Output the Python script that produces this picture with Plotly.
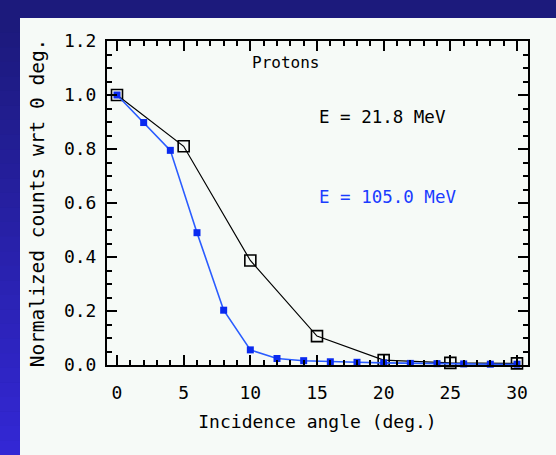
import plotly.graph_objects as go

# ---- data ----
angle_21 = [0, 5, 10, 15, 20, 25, 30]
counts_21 = [1.0, 0.81, 0.387, 0.107, 0.018, 0.008, 0.006]

angle_105 = [0, 2, 4, 6, 8, 10, 12, 14, 16, 18, 20, 22, 24, 26, 28, 30]
counts_105 = [1.0, 0.898, 0.795, 0.49, 0.203, 0.056, 0.024, 0.016, 0.012, 0.01,
              0.008, 0.006, 0.005, 0.004, 0.003, 0.003]

x_ticks = [0, 5, 10, 15, 20, 25, 30]
y_ticks = [0.0, 0.2, 0.4, 0.6, 0.8, 1.0, 1.2]

W, H = 556, 455
L, R, T, B = 107, 528, 41, 365  # plot area in pixels


def px(x):
    return (x - L) / (R - L)


def py(y):
    return (B - y) / (B - T)


FONT = "DejaVu Sans Mono"
BLACK = "#000000"
BLUE_LINE = "#2a5cff"
BLUE_MARK = "#0a2af0"
PANEL = "#f6faf7"

fig = go.Figure()

fig.add_trace(go.Scatter(
    x=angle_21, y=counts_21, mode="lines+markers",
    line=dict(color=BLACK, width=1.2),
    marker=dict(symbol="square-open", size=11, color=BLACK, line=dict(width=1.6)),
    showlegend=False, cliponaxis=False,
))
fig.add_trace(go.Scatter(
    x=angle_105, y=counts_105, mode="lines+markers",
    line=dict(color=BLUE_LINE, width=1.6),
    marker=dict(symbol="square", size=7, color=BLUE_MARK),
    showlegend=False, cliponaxis=False,
))

shapes = []
shapes.append(dict(type="rect", xref="paper", yref="paper",
                   x0=px(0), x1=px(W), y0=py(H), y1=py(0),
                   fillcolor="#1c1a7c", line=dict(width=0), layer="below"))
# left gradient strip
n = 30
c0 = (0x1c, 0x1a, 0x7c)
c1 = (0x33, 0x27, 0xd4)
for i in range(n):
    t = i / (n - 1)
    col = "rgb(%d,%d,%d)" % tuple(round(a + (b - a) * t) for a, b in zip(c0, c1))
    y0 = 18 + (H - 18) * i / n
    y1 = 18 + (H - 18) * (i + 1) / n + 0.5
    shapes.append(dict(type="rect", xref="paper", yref="paper",
                       x0=px(0), x1=px(20), y0=py(y1), y1=py(y0),
                       fillcolor=col, line=dict(width=0), layer="below"))
# white panel
shapes.append(dict(type="rect", xref="paper", yref="paper",
                   x0=px(20), x1=px(W), y0=py(H), y1=py(18),
                   fillcolor=PANEL, line=dict(width=0), layer="below"))

annotations = [
    dict(x=12.6, y=1.12, xref="x", yref="y", text="Protons", showarrow=False,
         font=dict(family=FONT, size=16, color=BLACK), xanchor="center", yanchor="middle"),
    dict(x=15.0, y=0.92, xref="x", yref="y", text="E = 21.8 MeV", showarrow=False,
         font=dict(family=FONT, size=17.5, color=BLACK), xanchor="left", yanchor="middle"),
    dict(x=15.0, y=0.623, xref="x", yref="y", text="E = 105.0 MeV", showarrow=False,
         font=dict(family=FONT, size=17.5, color="#1a3cff"), xanchor="left", yanchor="middle"),
]

axis_common = dict(
    showgrid=False, zeroline=False, showline=True, linecolor=BLACK, linewidth=2,
    mirror="allticks", ticks="inside", ticklen=10, tickwidth=2, tickcolor=BLACK,
    tickfont=dict(family=FONT, size=18, color=BLACK),
)

fig.update_layout(
    width=W, height=H, autosize=False,
    margin=dict(l=L, r=W - R, t=T, b=H - B, pad=0),
    paper_bgcolor=PANEL, plot_bgcolor=PANEL,
    shapes=shapes, annotations=annotations,
    xaxis=dict(
        range=[-0.75, 30.825], tickvals=x_ticks, ticktext=[str(v) for v in x_ticks],
        minor=dict(dtick=1, tick0=0, ticks="inside", ticklen=5, tickwidth=2, tickcolor=BLACK),
        ticklabelstandoff=10,
        title=dict(text="Incidence angle (deg.)", font=dict(family=FONT, size=18, color=BLACK),
                   standoff=14),
        **axis_common,
    ),
    yaxis=dict(
        range=[0, 1.2], tickvals=y_ticks, ticktext=["%.1f" % v for v in y_ticks],
        minor=dict(dtick=0.05, tick0=0, ticks="inside", ticklen=5, tickwidth=2, tickcolor=BLACK),
        ticklabelstandoff=5,
        title=dict(text="Normalized counts wrt 0 deg.", font=dict(family=FONT, size=19.5, color=BLACK),
                   standoff=14),
        **axis_common,
    ),
)

fig.write_html("out.html")
